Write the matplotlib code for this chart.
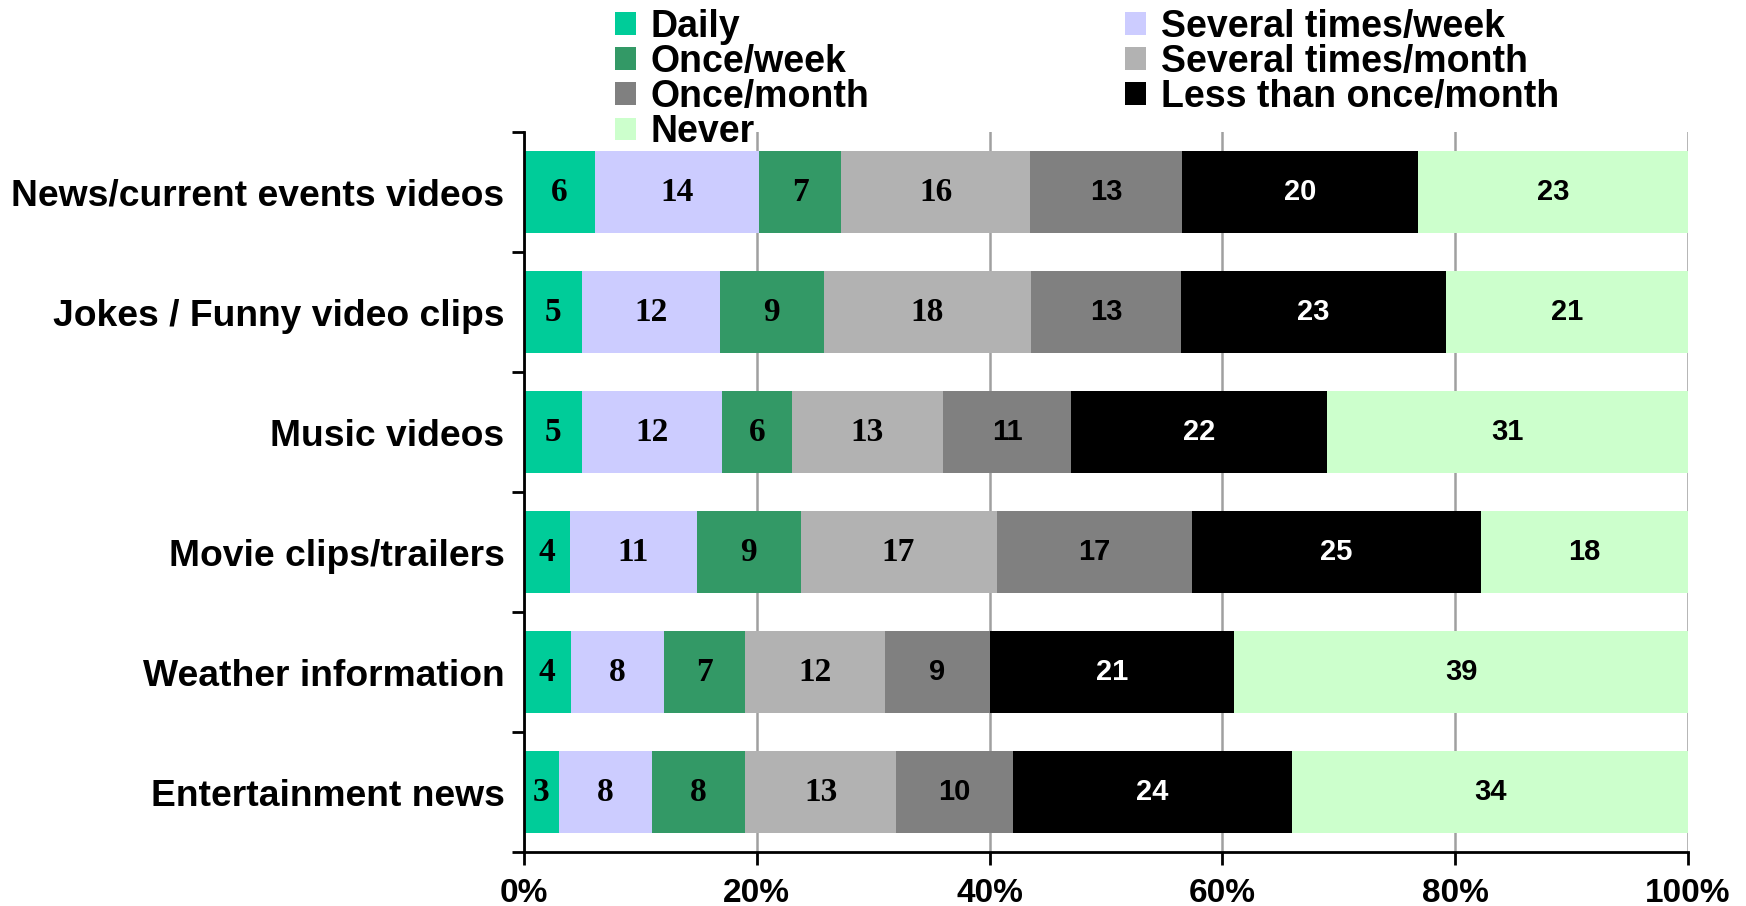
import numpy as np
import matplotlib.pyplot as plt
from matplotlib.patches import Patch

categories = ["News/current events videos", "Jokes / Funny video clips", "Music videos",
              "Movie clips/trailers", "Weather information", "Entertainment news"]
series = ["Daily", "Several times/week", "Once/week", "Several times/month",
          "Once/month", "Less than once/month", "Never"]
daily = [6, 5, 5, 4, 4, 3]
several_week = [14, 12, 12, 11, 8, 8]
once_week = [7, 9, 6, 9, 7, 8]
several_month = [16, 18, 13, 17, 12, 13]
once_month = [13, 13, 11, 17, 9, 10]
less_month = [20, 23, 22, 25, 21, 24]
never = [23, 21, 31, 18, 39, 34]
colors = ["#00CC99", "#CCCCFF", "#339966", "#B2B2B2", "#808080", "#000000", "#CCFFCC"]
xticks = ["0%", "20%", "40%", "60%", "80%", "100%"]

vals = np.array([daily, several_week, once_week, several_month, once_month, less_month, never], dtype=float)
share = vals / vals.sum(axis=0) * 100  # 100% stacked

sans = ["Liberation Sans", "DejaVu Sans"]
serif = ["Liberation Serif", "DejaVu Serif"]

fig = plt.figure(figsize=(17.46, 9.06), dpi=100)
ax = fig.add_axes([0.3001, 0.0596, 0.6667, 0.7947])

y = np.arange(len(categories))
left = np.zeros(len(categories))
for i, name in enumerate(series):
    ax.barh(y, share[i], left=left, height=0.68, color=colors[i], label=name,
            edgecolor="none", zorder=2)
    for j in range(len(categories)):
        # first four series labelled in serif, the rest in sans
        if i < 4:
            fam, fs = serif, 24
        else:
            fam, fs = sans, 21
        tc = "white" if colors[i] == "#000000" else "black"
        ax.text(left[j] + share[i][j] / 2, y[j], f"{int(vals[i][j])}", ha="center", va="center",
                fontsize=fs, fontweight="bold", family=fam, color=tc, zorder=3)
    left += share[i]

ax.set_xlim(0, 100)
ax.set_ylim(len(categories) - 0.5, -0.5)
ax.set_xticks(np.arange(0, 101, 20))
ax.set_xticklabels(xticks, fontsize=24, fontweight="bold", family=sans)
ax.set_yticks(y)
ax.set_yticklabels(categories, fontsize=26.8, fontweight="bold", family=sans)
ax.tick_params(axis="y", length=0, pad=14)
ax.set_yticks(np.arange(-0.5, len(categories)), minor=True)
ax.tick_params(axis="y", which="minor", length=9, width=2, direction="out")
ax.tick_params(axis="x", length=9, width=2, direction="out", pad=10)
ax.xaxis.grid(True, color="#A0A0A0", linewidth=1.8, zorder=0)
ax.set_axisbelow(True)
for s in ["top", "right"]:
    ax.spines[s].set_visible(False)
for s in ["left", "bottom"]:
    ax.spines[s].set_linewidth(2)

# legend laid out row by row: two columns
order = [0, 2, 4, 6, 1, 3, 5]
handles = [Patch(facecolor=colors[k], edgecolor="none") for k in order]
labels = [series[k] for k in order]
fig.legend(handles, labels, ncol=2, loc="upper left", bbox_to_anchor=(0.337, 1.0195),
           frameon=False, prop={"family": sans, "weight": "bold", "size": 27},
           handlelength=0.56, handleheight=0.56, handletextpad=0.4, labelspacing=-0.02,
           columnspacing=6.8, borderpad=0.2)

fig.savefig("out.png", dpi=100)
